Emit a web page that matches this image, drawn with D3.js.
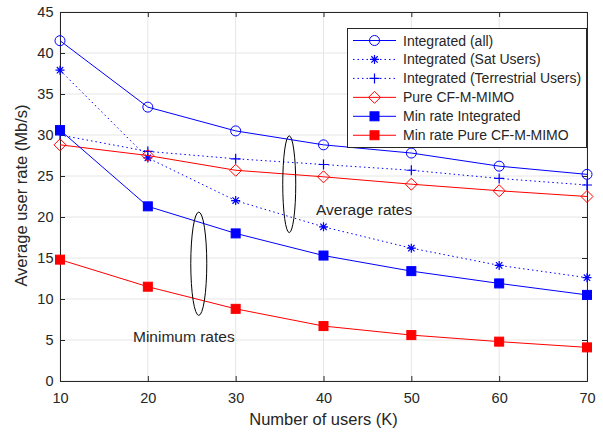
<!DOCTYPE html>
<html>
<head>
<meta charset="UTF-8">
<title>user rate</title>
<script src="https://d3js.org/d3.v7.min.js"></script>
<style>
  body { margin: 0; background: #fff; }
  text { font-family: Arial, "Liberation Sans", sans-serif; fill: #262626; }
</style>
</head>
<body>
<svg id="chart" width="603" height="432"></svg>
<script>
// ---- data ----
var users = [10, 20, 30, 40, 50, 60, 70];
var integratedAll = [41.5, 33.4, 30.5, 28.8, 27.8, 26.2, 25.2];
var integratedSat = [37.9, 27.2, 22.0, 18.8, 16.2, 14.1, 12.6];
var integratedTer = [30.0, 28.0, 27.1, 26.4, 25.7, 24.7, 23.9];
var pureCF = [28.8, 27.5, 25.7, 24.9, 24.0, 23.2, 22.5];
var minIntegrated = [30.6, 21.3, 18.0, 15.3, 13.4, 11.9, 10.5];
var minPureCF = [14.8, 11.5, 8.8, 6.7, 5.6, 4.8, 4.1];
var yTicks = [0, 5, 10, 15, 20, 25, 30, 35, 40, 45];
var seriesNames = ["Integrated (all)", "Integrated (Sat Users)", "Integrated (Terrestrial Users)",
  "Pure CF-M-MIMO", "Min rate Integrated", "Min rate Pure CF-M-MIMO"];

var series = [
  {name: seriesNames[0], values: integratedAll, color: "#0000ff", dash: null, marker: "circle"},
  {name: seriesNames[1], values: integratedSat, color: "#0000ff", dash: "1.5,3", marker: "star"},
  {name: seriesNames[2], values: integratedTer, color: "#0000ff", dash: "1.5,3", marker: "plus"},
  {name: seriesNames[3], values: pureCF, color: "#ff0000", dash: null, marker: "diamond"},
  {name: seriesNames[4], values: minIntegrated, color: "#0000ff", dash: null, marker: "square"},
  {name: seriesNames[5], values: minPureCF, color: "#ff0000", dash: null, marker: "square"}
];

var svg = d3.select("#chart");
var m = {left: 60, right: 16, top: 12, bottom: 51};
var W = 603, H = 432;

var x = d3.scaleLinear().domain([10, 70]).range([m.left, W - m.right]);
var y = d3.scaleLinear().domain([0, 45]).range([H - m.bottom, m.top]);

// grid
svg.append("g").selectAll("line").data(users).enter().append("line")
  .attr("x1", d => x(d)).attr("x2", d => x(d))
  .attr("y1", y(0)).attr("y2", y(45))
  .attr("stroke", "#e6e6e6").attr("stroke-width", 1);
svg.append("g").selectAll("line").data(yTicks).enter().append("line")
  .attr("x1", x(10)).attr("x2", x(70))
  .attr("y1", d => y(d)).attr("y2", d => y(d))
  .attr("stroke", "#e6e6e6").attr("stroke-width", 1);

// axes
var xAxis = d3.axisBottom(x).tickValues(users).tickSize(-5).tickPadding(12);
var yAxis = d3.axisLeft(y).tickValues(yTicks).tickSize(-5).tickPadding(6.5);
var gx = svg.append("g").attr("transform", "translate(0," + y(0) + ")").call(xAxis);
var gy = svg.append("g").attr("transform", "translate(" + x(10) + ",0)").call(yAxis);
[gx, gy].forEach(function(g) {
  g.selectAll("text").attr("font-size", 14.5).attr("fill", "#262626")
    .style("font-family", "Arial, 'Liberation Sans', sans-serif");
  g.selectAll("line").attr("stroke", "#262626");
  g.select(".domain").attr("stroke", "#262626");
});
// top and right box ticks
svg.append("g").attr("transform", "translate(0," + y(45) + ")")
  .call(d3.axisTop(x).tickValues(users).tickSize(-5).tickFormat(""))
  .selectAll("line,path").attr("stroke", "#262626");
svg.append("g").attr("transform", "translate(" + x(70) + ",0)")
  .call(d3.axisRight(y).tickValues(yTicks).tickSize(-5).tickFormat(""))
  .selectAll("line,path").attr("stroke", "#262626");

// axis labels
svg.append("text").attr("x", (x(10) + x(70)) / 2).attr("y", 425)
  .attr("text-anchor", "middle").attr("font-size", 16.5).text("Number of users (K)");
svg.append("text").attr("transform", "translate(27," + ((y(0) + y(45)) / 2 - 1) + ") rotate(-90)")
  .attr("text-anchor", "middle").attr("font-size", 16.5).text("Average user rate (Mb/s)");

// markers
function drawMarker(g, type, cx, cy, color) {
  if (type === "circle") {
    g.append("circle").attr("cx", cx).attr("cy", cy).attr("r", 5)
      .attr("fill", "none").attr("stroke", color).attr("stroke-width", 1);
  } else if (type === "square") {
    g.append("rect").attr("x", cx - 4.5).attr("y", cy - 4.5).attr("width", 9).attr("height", 9)
      .attr("fill", color).attr("stroke", color);
  } else if (type === "diamond") {
    g.append("path").attr("d", "M" + cx + "," + (cy - 6) + "L" + (cx + 6) + "," + cy + "L" + cx + "," + (cy + 6) + "L" + (cx - 6) + "," + cy + "Z")
      .attr("fill", "none").attr("stroke", color).attr("stroke-width", 1);
  } else if (type === "plus") {
    g.append("path").attr("d", "M" + (cx - 5) + "," + cy + "H" + (cx + 5) + "M" + cx + "," + (cy - 5) + "V" + (cy + 5))
      .attr("stroke", color).attr("stroke-width", 1.2).attr("fill", "none");
  } else if (type === "star") {
    var r = 4.5, d = "";
    for (var k = 0; k < 4; k++) {
      var a = k * Math.PI / 4;
      d += "M" + (cx - r * Math.cos(a)) + "," + (cy - r * Math.sin(a)) + "L" + (cx + r * Math.cos(a)) + "," + (cy + r * Math.sin(a));
    }
    g.append("path").attr("d", d).attr("stroke", color).attr("stroke-width", 1.2).attr("fill", "none");
  }
}

var line = d3.line().x((d, i) => x(users[i])).y(d => y(d));
series.forEach(function(s) {
  var g = svg.append("g");
  g.append("path").datum(s.values).attr("d", line)
    .attr("fill", "none").attr("stroke", s.color).attr("stroke-width", 1)
    .attr("stroke-dasharray", s.dash);
  s.values.forEach(function(v, i) { drawMarker(g, s.marker, x(users[i]), y(v), s.color); });
});

// annotations: ellipses
var ellipses = [
  {cx: 36.1, cy: 24.0, rx: 6.5, ry: 5.9},
  {cx: 25.8, cy: 14.3, rx: 8, ry: 6.3}
];
ellipses.forEach(function(e) {
  svg.append("ellipse").attr("cx", x(e.cx)).attr("cy", y(e.cy))
    .attr("rx", e.rx).attr("ry", (y(0) - y(e.ry)))
    .attr("fill", "none").attr("stroke", "#000").attr("stroke-width", 1);
});
svg.append("text").attr("x", 316).attr("y", 215).attr("font-size", 15.5).attr("fill", "#000").text("Average rates");
svg.append("text").attr("x", 133).attr("y", 342).attr("font-size", 15.5).attr("fill", "#000").text("Minimum rates");

// legend
var lg = svg.append("g");
lg.append("rect").attr("x", 347.5).attr("y", 28.5).attr("width", 239).attr("height", 119)
  .attr("fill", "#fff").attr("stroke", "#262626").attr("stroke-width", 1);
series.forEach(function(s, i) {
  var ly = 40.5 + i * 18.95;
  lg.append("line").attr("x1", 353).attr("x2", 396).attr("y1", ly).attr("y2", ly)
    .attr("stroke", s.color).attr("stroke-dasharray", s.dash);
  drawMarker(lg, s.marker, 374.5, ly, s.color);
  lg.append("text").attr("x", 403).attr("y", ly + 5).attr("font-size", 14).attr("fill", "#000").text(s.name);
});
</script>
</body>
</html>
